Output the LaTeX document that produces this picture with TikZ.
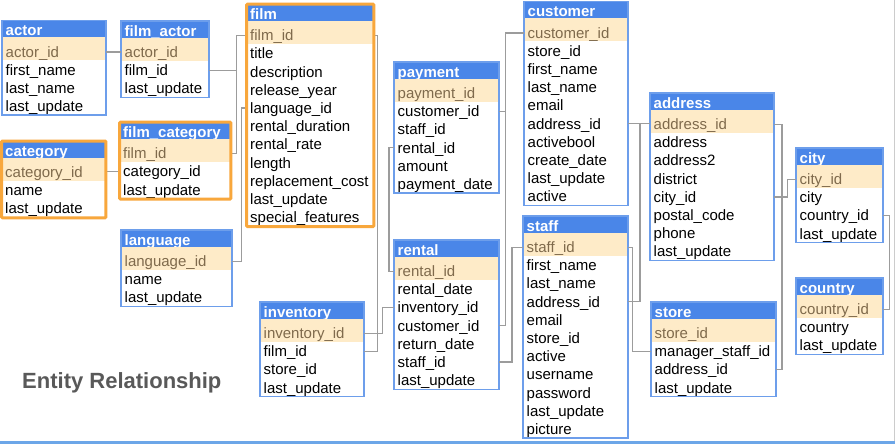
\documentclass[tikz,border=0pt]{standalone}
\usepackage{fontspec}
\setmainfont{Liberation Sans}
\usepackage{tikz}

\definecolor{hdrblue}{HTML}{4A86E8}
\definecolor{tblblue}{HTML}{6D9EEB}
\definecolor{keyfill}{HTML}{FEEBC8}
\definecolor{keytext}{HTML}{7F6A4C}
\definecolor{hiorange}{HTML}{F8A73C}
\definecolor{linkgray}{HTML}{9C9C9C}
\definecolor{titlegray}{HTML}{595959}
\definecolor{barblue}{HTML}{6CA6E8}
\definecolor{framegray}{HTML}{CCCCCC}

\hyphenpenalty=10000
\exhyphenpenalty=10000

% #1 node name, #2 title, #3 x, #4 y, #5 width, #6 key field, #7 other fields
\newcommand{\erdtable}[7]{%
  \pgfmathsetmacro{\tw}{#5-7}
  \node[tblhead, text width=\tw pt] (#1) at (#3,#4) {#2};
  \fill[keyfill] (#3,#4+17) rectangle (#3+#5,#4+40);
  \node[tblrow, text=keytext, text width=\tw pt] (#1-0) at (#3,#4+22) {#6};
  \foreach \f [count=\i] in {#7} {
    \node[tblrow, text width=\tw pt] (#1-\i) at (#3,{#4+40+(\i-1)*18.2}) {\f};
    \xdef\nrows{\i}
  }
  \draw[tblline] (#3,#4) rectangle ({#3+#5},{#4+40+\nrows*18.2});
}

\begin{document}
\begin{tikzpicture}[x=1pt, y=-1pt,
  tblhead/.style={anchor=north west, fill=hdrblue, text=white, font=\fontsize{15}{18}\selectfont\bfseries,
    inner xsep=3.5pt, inner ysep=0pt, minimum height=17pt, text height=13pt, text depth=0pt, align=left},
  tblrow/.style={anchor=north west, font=\fontsize{15}{18}\selectfont,
    inner xsep=3.5pt, inner ysep=0pt, minimum height=18.2pt, text height=12.4pt, text depth=1.6pt, align=left},
  tblline/.style={draw=tblblue, line width=1.2pt},
  hilite/.style={draw=hiorange, line width=3pt, rounded corners=1pt},
  link/.style={draw=linkgray, line width=1.5pt}]
\useasboundingbox (0,0) rectangle (895,444);
\fill[white] (0,0) rectangle (895,444);

\erdtable{actor}{actor}{2}{20.5}{104}{actor\_id}{first\_name,last\_name,last\_update}
\erdtable{filmactor}{film\_actor}{121}{21}{88}{actor\_id}{film\_id,last\_update}
\erdtable{category}{category}{1.5}{141}{104}{category\_id}{name,last\_update}
\erdtable{filmcat}{film\_category}{119.5}{122.2}{111}{film\_id}{category\_id,last\_update}
\erdtable{film}{film}{246.5}{4.2}{127}{film\_id}{title,description,release\_year,language\_id,rental\_duration,rental\_rate,length,replacement\_cost,last\_update,special\_features}
\erdtable{language}{language}{121}{230}{111}{language\_id}{name,last\_update}
\erdtable{inventory}{inventory}{260}{302}{104}{inventory\_id}{film\_id,store\_id,last\_update}
\erdtable{payment}{payment}{394}{62}{105}{payment\_id}{customer\_id,staff\_id,rental\_id,amount,payment\_date}
\erdtable{rental}{rental}{394}{240}{105}{rental\_id}{rental\_date,inventory\_id,customer\_id,return\_date,staff\_id,last\_update}
\erdtable{customer}{customer}{524}{1.5}{104}{customer\_id}{store\_id,first\_name,last\_name,email,address\_id,activebool,create\_date,last\_update,active}
\erdtable{staff}{staff}{523}{216}{105}{staff\_id}{first\_name,last\_name,address\_id,email,store\_id,active,username,password,last\_update,picture}
\erdtable{address}{address}{650}{93}{124}{address\_id}{address,address2,district,city\_id,postal\_code,phone,last\_update}
\erdtable{store}{store}{651}{302}{125}{store\_id}{manager\_staff\_id,address\_id,last\_update}
\erdtable{city}{city}{796}{148}{87}{city\_id}{city,country\_id,last\_update}
\erdtable{country}{country}{796}{278}{87}{country\_id}{country,last\_update}

\draw[link] (actor-0.east) -- (actor-0.east -| filmactor-0.west);
\draw[link] (filmactor-1.east) -- ++(27,0) |- (film-0.west);
\draw[link] (filmcat-0.east) -- ++(5.5,0) |- (film-0.west);
\draw[link] (language-0.east) -- ++(9,0) |- (film-4.west);
\draw[link] (filmcat-1.west) -- (filmcat-1.west -| category-0.east);
\draw[link] (film-0.east) -- ++(3.5,0) |- (inventory-1.east);
\draw[link] (inventory-0.east) -- ++(18,0) |- (rental-2.west);
\draw[link] (payment-3.west) -- ++(-5,0) |- (rental-0.west);
\draw[link] (payment-1.east) -- ++(6,0) |- (customer-0.west);
\draw[link] (rental-3.east) -- ++(6,0) |- (customer-0.west);
\draw[link] (rental-5.east) -- ++(12.5,0) |- (staff-0.west);
\draw[link] (customer-5.east) -- (customer-5.east -| address-0.west);
\draw[link] (staff-3.east) -- ++(11.5,0) |- (customer-5.east -| address-0.west);
\draw[link] (staff-0.east) -- ++(4,0) |- (store-1.west);
\draw[link] (store-2.east) -- ++(5.5,0) |- (address-0.east);
\draw[link] (address-4.east) -- ++(13,0) |- (city-0.west);
\draw[link] (city-2.east) -- ++(6,0) |- (country-0.east);

\draw[hilite] (category.north west) rectangle (category-2.south east);
\draw[hilite] (filmcat.north west) rectangle (filmcat-2.south east);
\draw[hilite] (film.north west) rectangle (film-10.south east);

\node[anchor=base west, inner sep=0pt, text=titlegray, font=\fontsize{22}{26}\selectfont\bfseries] (heading) at (22,388) {Entity Relationship};

\draw[framegray, line width=1pt] (894.5,0) -- (894.5,441);
\fill[barblue] (0,441) rectangle (895,444);
\end{tikzpicture}
\end{document}
